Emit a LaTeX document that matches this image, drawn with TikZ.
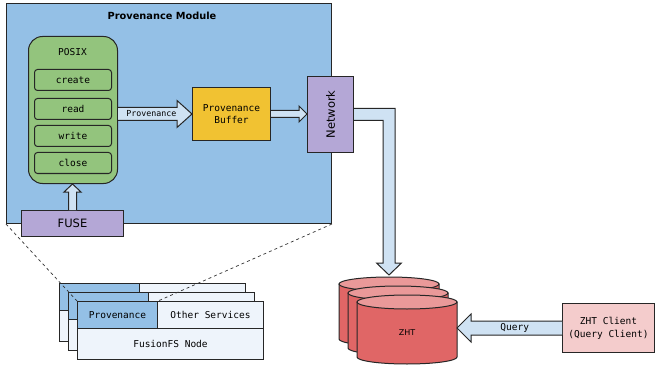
\documentclass[tikz,border=0pt]{standalone}
\usepackage{fontspec}
\setmainfont{DejaVu Sans}
\setsansfont{DejaVu Sans}
\setmonofont{DejaVu Sans Mono}
\usepackage{tikz}
\usetikzlibrary{calc}
\definecolor{modblue}{RGB}{148,192,230}
\definecolor{posixgreen}{RGB}{147,196,125}
\definecolor{bufgold}{RGB}{241,194,50}
\definecolor{netpurple}{RGB}{180,167,214}
\definecolor{arrowblue}{RGB}{207,226,243}
\definecolor{zhtred}{RGB}{224,102,102}
\definecolor{zhttop}{RGB}{234,153,153}
\definecolor{clientpink}{RGB}{244,204,204}
\definecolor{cardlight}{RGB}{238,244,251}
\tikzset{
	box/.style={draw=black!85, line width=1pt, inner sep=0pt, anchor=north west},
	mono/.style={font=\ttfamily\fontsize{9.5}{12}\selectfont},
	fatarrow/.style={draw=black!85, line width=1pt, fill=arrowblue, line join=miter},
	cylline/.style={draw=black!85, line width=1pt},
	zoomline/.style={draw=black!80, line width=0.7pt, dash pattern=on 3pt off 3pt},
}

\begin{document}
\begin{tikzpicture}[x=1pt,y=-1pt]
	\useasboundingbox (0,0) rectangle (655,366);
	\node[box, fill=modblue, minimum width=325pt, minimum height=220pt] (mod) at (6,3) {};
	\node[font=\bfseries\fontsize{9.8}{12}\selectfont] (modtitle) at (162,16) {Provenance Module};
	\node[box, rounded corners=14pt, fill=posixgreen, minimum width=89pt, minimum height=147pt] (posix) at (28,36) {};
	\node[mono] (posixlbl) at (72.5,52) {POSIX};
	\foreach \op/\y in {create/69,read/98,write/125,close/152}{
		\node[box, rounded corners=3pt, fill=posixgreen, minimum width=77pt, minimum height=21pt, mono] (\op) at (34,\y) {\op};
	}
	\node[box, fill=bufgold, minimum width=78pt, minimum height=53pt, mono, align=center] (buf) at (192,87) {Provenance\\Buffer};
	\node[box, fill=netpurple, minimum width=46pt, minimum height=76pt] (net) at (307,76) {};
	\node[rotate=90, font=\fontsize{11.5}{13}\selectfont] (netlbl) at (net.center) {Network};
	\coordinate (pa) at (posix.east |- buf.west);
	\draw[fatarrow] ($(pa)+(0,-6.5)$) -- ($(buf.west)+(-15,-6.5)$) -- ($(buf.west)+(-15,-13.5)$) -- (buf.west) -- ($(buf.west)+(-15,13.5)$) -- ($(buf.west)+(-15,6.5)$) -- ($(pa)+(0,6.5)$);
	\node[font=\ttfamily\fontsize{8.3}{10}\selectfont] (provlbl) at ($(pa)!0.45!(buf.west)$) {Provenance};
	\coordinate (nb) at (net.west |- buf.east);
	\draw[fatarrow] ($(buf.east)+(0,-3.5)$) -- ($(nb)+(-8,-3.5)$) -- ($(nb)+(-8,-8)$) -- (nb) -- ($(nb)+(-8,8)$) -- ($(nb)+(-8,3.5)$) -- ($(buf.east)+(0,3.5)$);
	\foreach \d in {0,9}{
		\draw[cylline, fill=cardlight] (59+\d,283+\d) rectangle ++(186,58);
		\draw[cylline, fill=modblue] (59+\d,283+\d) rectangle ++(80,27);
		\draw[cylline] (139+\d,283+\d) rectangle ++(106,27);
	}
	\node[box, fill=modblue, minimum width=80pt, minimum height=27pt, mono] (prov) at (77,301) {Provenance};
	\node[box, fill=cardlight, minimum width=106pt, minimum height=27pt, mono] (other) at (157,301) {Other Services};
	\node[box, fill=cardlight, minimum width=186pt, minimum height=31pt, mono] (fsnode) at (77,328) {FusionFS Node};
	\draw[zoomline] (mod.south west) -- (prov.north west);
	\draw[zoomline] (mod.south east) -- (prov.north east);
	\node[box, fill=netpurple, minimum width=102pt, minimum height=26pt, font=\fontsize{11.5}{13}\selectfont] (fuse) at (21,210) {FUSE};
	\coordinate (ftip) at (fuse.north |- posix.south);
	\draw[fatarrow] ($(fuse.north)+(-4,0)$) -- ($(ftip)+(-4,8)$) -- ($(ftip)+(-8.5,8)$) -- (ftip) -- ($(ftip)+(8.5,8)$) -- ($(ftip)+(4,8)$) -- ($(fuse.north)+(4,0)$);
	\foreach \i in {0,1,2}{
		\coordinate (zht\i) at (389+9*\i,284+9*\i);
		\draw[cylline, fill=zhtred] ($(zht\i)+(-50,0)$) -- ($(zht\i)+(-50,55)$) arc[start angle=180, end angle=360, x radius=50pt, y radius=7pt] -- ($(zht\i)+(50,0)$) -- cycle;
		\draw[cylline, fill=zhttop] (zht\i) ellipse [x radius=50pt, y radius=7pt];
	}
	\node[font=\fontsize{8}{10}\selectfont] (zhtlbl) at (407,333) {ZHT};
	\coordinate (bend) at (zht0 |- net.east);
	\draw[fatarrow] ($(net.east)+(0,-6)$) -- ($(bend)+(6,-6)$) -- ($(zht0)+(6,-21)$) -- ($(zht0)+(12.5,-21)$) -- ($(zht0)+(0,-9)$) -- ($(zht0)+(-12.5,-21)$) -- ($(zht0)+(-6,-21)$) -- ($(bend)+(-6,6)$) -- ($(net.east)+(0,6)$);
	\node[box, fill=clientpink, minimum width=92pt, minimum height=49pt, mono, align=center, font=\ttfamily\fontsize{9.5}{13}\selectfont] (client) at (562,303) {ZHT Client\\(Query Client)};
	\coordinate (zhtedge) at ($(zht2)+(50,0)$);
	\coordinate (qtip) at (zhtedge |- client.west);
	\draw[fatarrow] ($(client.west)+(0,-7)$) -- ($(qtip)+(14,-7)$) -- ($(qtip)+(14,-14)$) -- (qtip) -- ($(qtip)+(14,14)$) -- ($(qtip)+(14,7)$) -- ($(client.west)+(0,7)$);
	\node[mono] (querylbl) at ($(qtip)!0.55!(client.west)$) {Query};
\end{tikzpicture}
\end{document}
